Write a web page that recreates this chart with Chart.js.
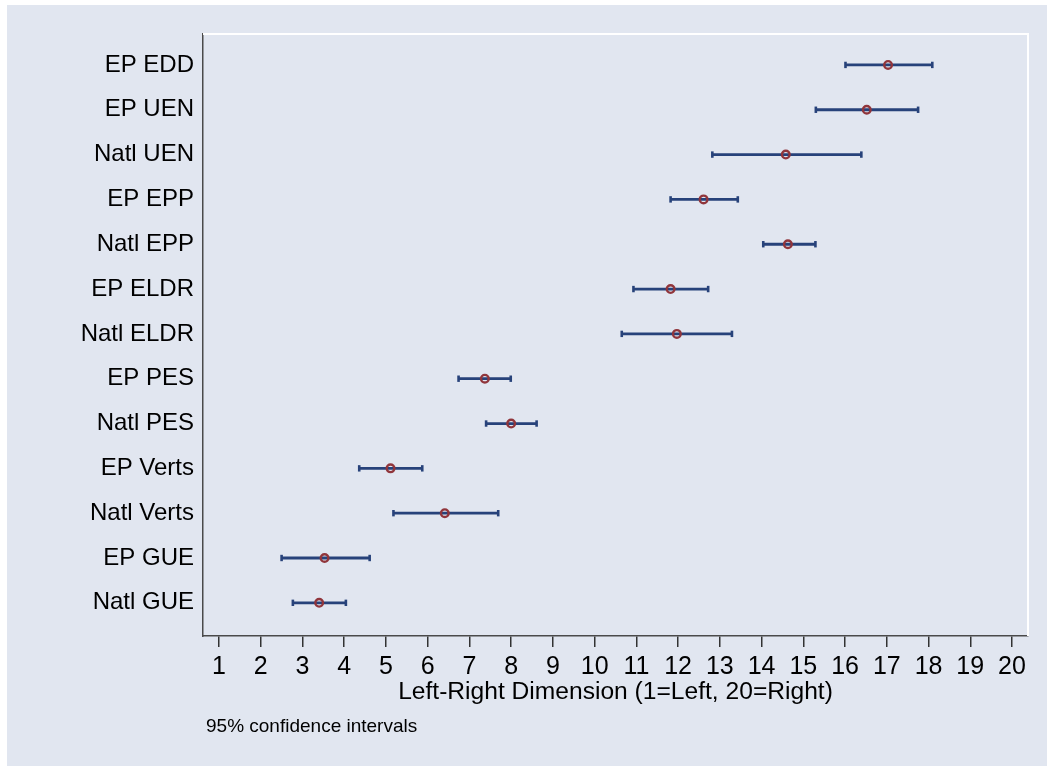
<!DOCTYPE html>
<html>
<head>
<meta charset="utf-8">
<script src="https://cdn.jsdelivr.net/npm/chart.js@4.4.1/dist/chart.umd.min.js"></script>
<style>
  html, body { margin: 0; padding: 0; background: #ffffff; }
  #wrap { position: relative; width: 1047px; height: 766px; overflow: hidden; }
  #bg { position: absolute; left: 7px; top: 5px; right: 0; bottom: 0; background: #e1e6f0; }
  #chart { position: absolute; left: 0; top: 0; }
</style>
</head>
<body>
<div id="wrap">
  <div id="bg"></div>
  <canvas id="chart" width="1047" height="766"></canvas>
</div>
<script>
// parties, top to bottom
const parties = ['EP EDD', 'EP UEN', 'Natl UEN', 'EP EPP', 'Natl EPP', 'EP ELDR', 'Natl ELDR',
    'EP PES', 'Natl PES', 'EP Verts', 'Natl Verts', 'EP GUE', 'Natl GUE'];

// mean left-right placement and 95% CI bounds
const estimate = [17.03, 16.52, 14.58, 12.61, 14.63, 11.82, 11.97, 7.37, 8.00, 5.11, 6.41, 3.53, 3.40];
const lower = [16.01, 15.30, 12.82, 11.82, 14.04, 10.93, 10.65, 6.74, 7.40, 4.36, 5.18, 2.50, 2.77];
const upper = [18.09, 17.75, 16.39, 13.43, 15.29, 12.72, 13.29, 7.99, 8.61, 5.87, 7.69, 4.61, 4.04];

const xTicks = [1, 2, 3, 4, 5, 6, 7, 8, 9, 10, 11, 12, 13, 14, 15, 16, 17, 18, 19, 20];

const xTitle = 'Left-Right Dimension (1=Left, 20=Right)';
const note = '95% confidence intervals';

const navy = '#27427a';
const maroon = '#90353b';
const font = '"Liberation Sans", Arial, sans-serif';

// one line dataset with gaps between rows
const ciData = [];
parties.forEach((p, i) => {
    ciData.push({ x: lower[i], y: i });
    ciData.push({ x: upper[i], y: i });
    ciData.push({ x: null, y: null });
});

const capData = [];
parties.forEach((p, i) => {
    capData.push({ x: lower[i], y: i });
    capData.push({ x: upper[i], y: i });
});

const pointData = parties.map((p, i) => ({ x: estimate[i], y: i }));

const framePlugin = {
    id: 'frame',
    beforeDatasetsDraw(chart) {
        const { ctx, chartArea: a } = chart;
        ctx.save();
        ctx.strokeStyle = '#ffffff';
        ctx.lineWidth = 2;
        ctx.beginPath();
        ctx.moveTo(a.left, a.top);
        ctx.lineTo(a.right, a.top);
        ctx.lineTo(a.right, a.bottom);
        ctx.stroke();
        ctx.restore();
    },
    afterDraw(chart) {
        const { ctx } = chart;
        ctx.save();
        ctx.fillStyle = '#000000';
        ctx.font = '19px ' + font;
        ctx.textBaseline = 'middle';
        ctx.textAlign = 'left';
        ctx.fillText(note, 206, 727);
        ctx.restore();
    }
};

const ctx = document.getElementById('chart');

const chart = new Chart(ctx, {

    type: 'scatter',
    data: {
        datasets: [
            {
                label: 'estimate',
                data: pointData,
                pointStyle: 'circle',
                pointRadius: 3.8,
                pointBorderWidth: 2.4,
                pointBorderColor: maroon,
                pointBackgroundColor: 'rgba(0,0,0,0)',
                showLine: false
            },
            {
                label: 'caps',
                data: capData,
                pointStyle: 'line',
                rotation: 90,
                pointRadius: 3.2,
                pointBorderWidth: 2.6,
                pointBorderColor: navy,
                showLine: false
            },
            {
                label: 'ci',
                data: ciData,
                showLine: true,
                spanGaps: false,
                borderColor: navy,
                borderWidth: 2.8,
                pointRadius: 0
            }
        ]
    },

    options: {
        responsive: false,
        animation: false,
        devicePixelRatio: 1,
        layout: {
            padding: { top: 34, right: 19, left: 0, bottom: 0 }
        },

        plugins: {
            legend: { display: false },
            tooltip: { enabled: false }
        },

        scales: {
            x: {
                type: 'linear',
                min: 0.617,
                max: 20.383,
                afterBuildTicks: s => { s.ticks = xTicks.map(v => ({ value: v })); },
                afterFit: s => { s.height = 130; },
                ticks: {
                    color: '#000000',
                    font: { family: font, size: 25 },
                    padding: 5,
                    maxRotation: 0,
                    autoSkip: false
                },
                grid: {
                    display: true,
                    drawOnChartArea: false,
                    drawTicks: true,
                    tickLength: 11,
                    color: '#333333',
                    lineWidth: 1.5
                },
                border: {
                    display: true,
                    color: '#4a4a4a',
                    width: 1.5
                },
                title: {
                    display: true,
                    text: xTitle,
                    color: '#000000',
                    font: { family: font, size: 24.6 },
                    padding: { top: 0, bottom: 59.2 }
                }
            },

            y: {
                type: 'linear',
                reverse: true,
                min: -0.69,
                max: 12.74,
                afterBuildTicks: s => { s.ticks = parties.map((p, i) => ({ value: i })); },
                afterFit: s => { s.width = 203; },
                ticks: {
                    color: '#000000',
                    font: { family: font, size: 24 },
                    padding: 9,
                    autoSkip: false,
                    callback: v => parties[v]
                },
                grid: {
                    display: false,
                    drawTicks: false
                },
                border: {
                    display: true,
                    color: '#4a4a4a',
                    width: 1.5
                }
            }
        }
    },

    plugins: [framePlugin]

});
</script>
</body>
</html>
